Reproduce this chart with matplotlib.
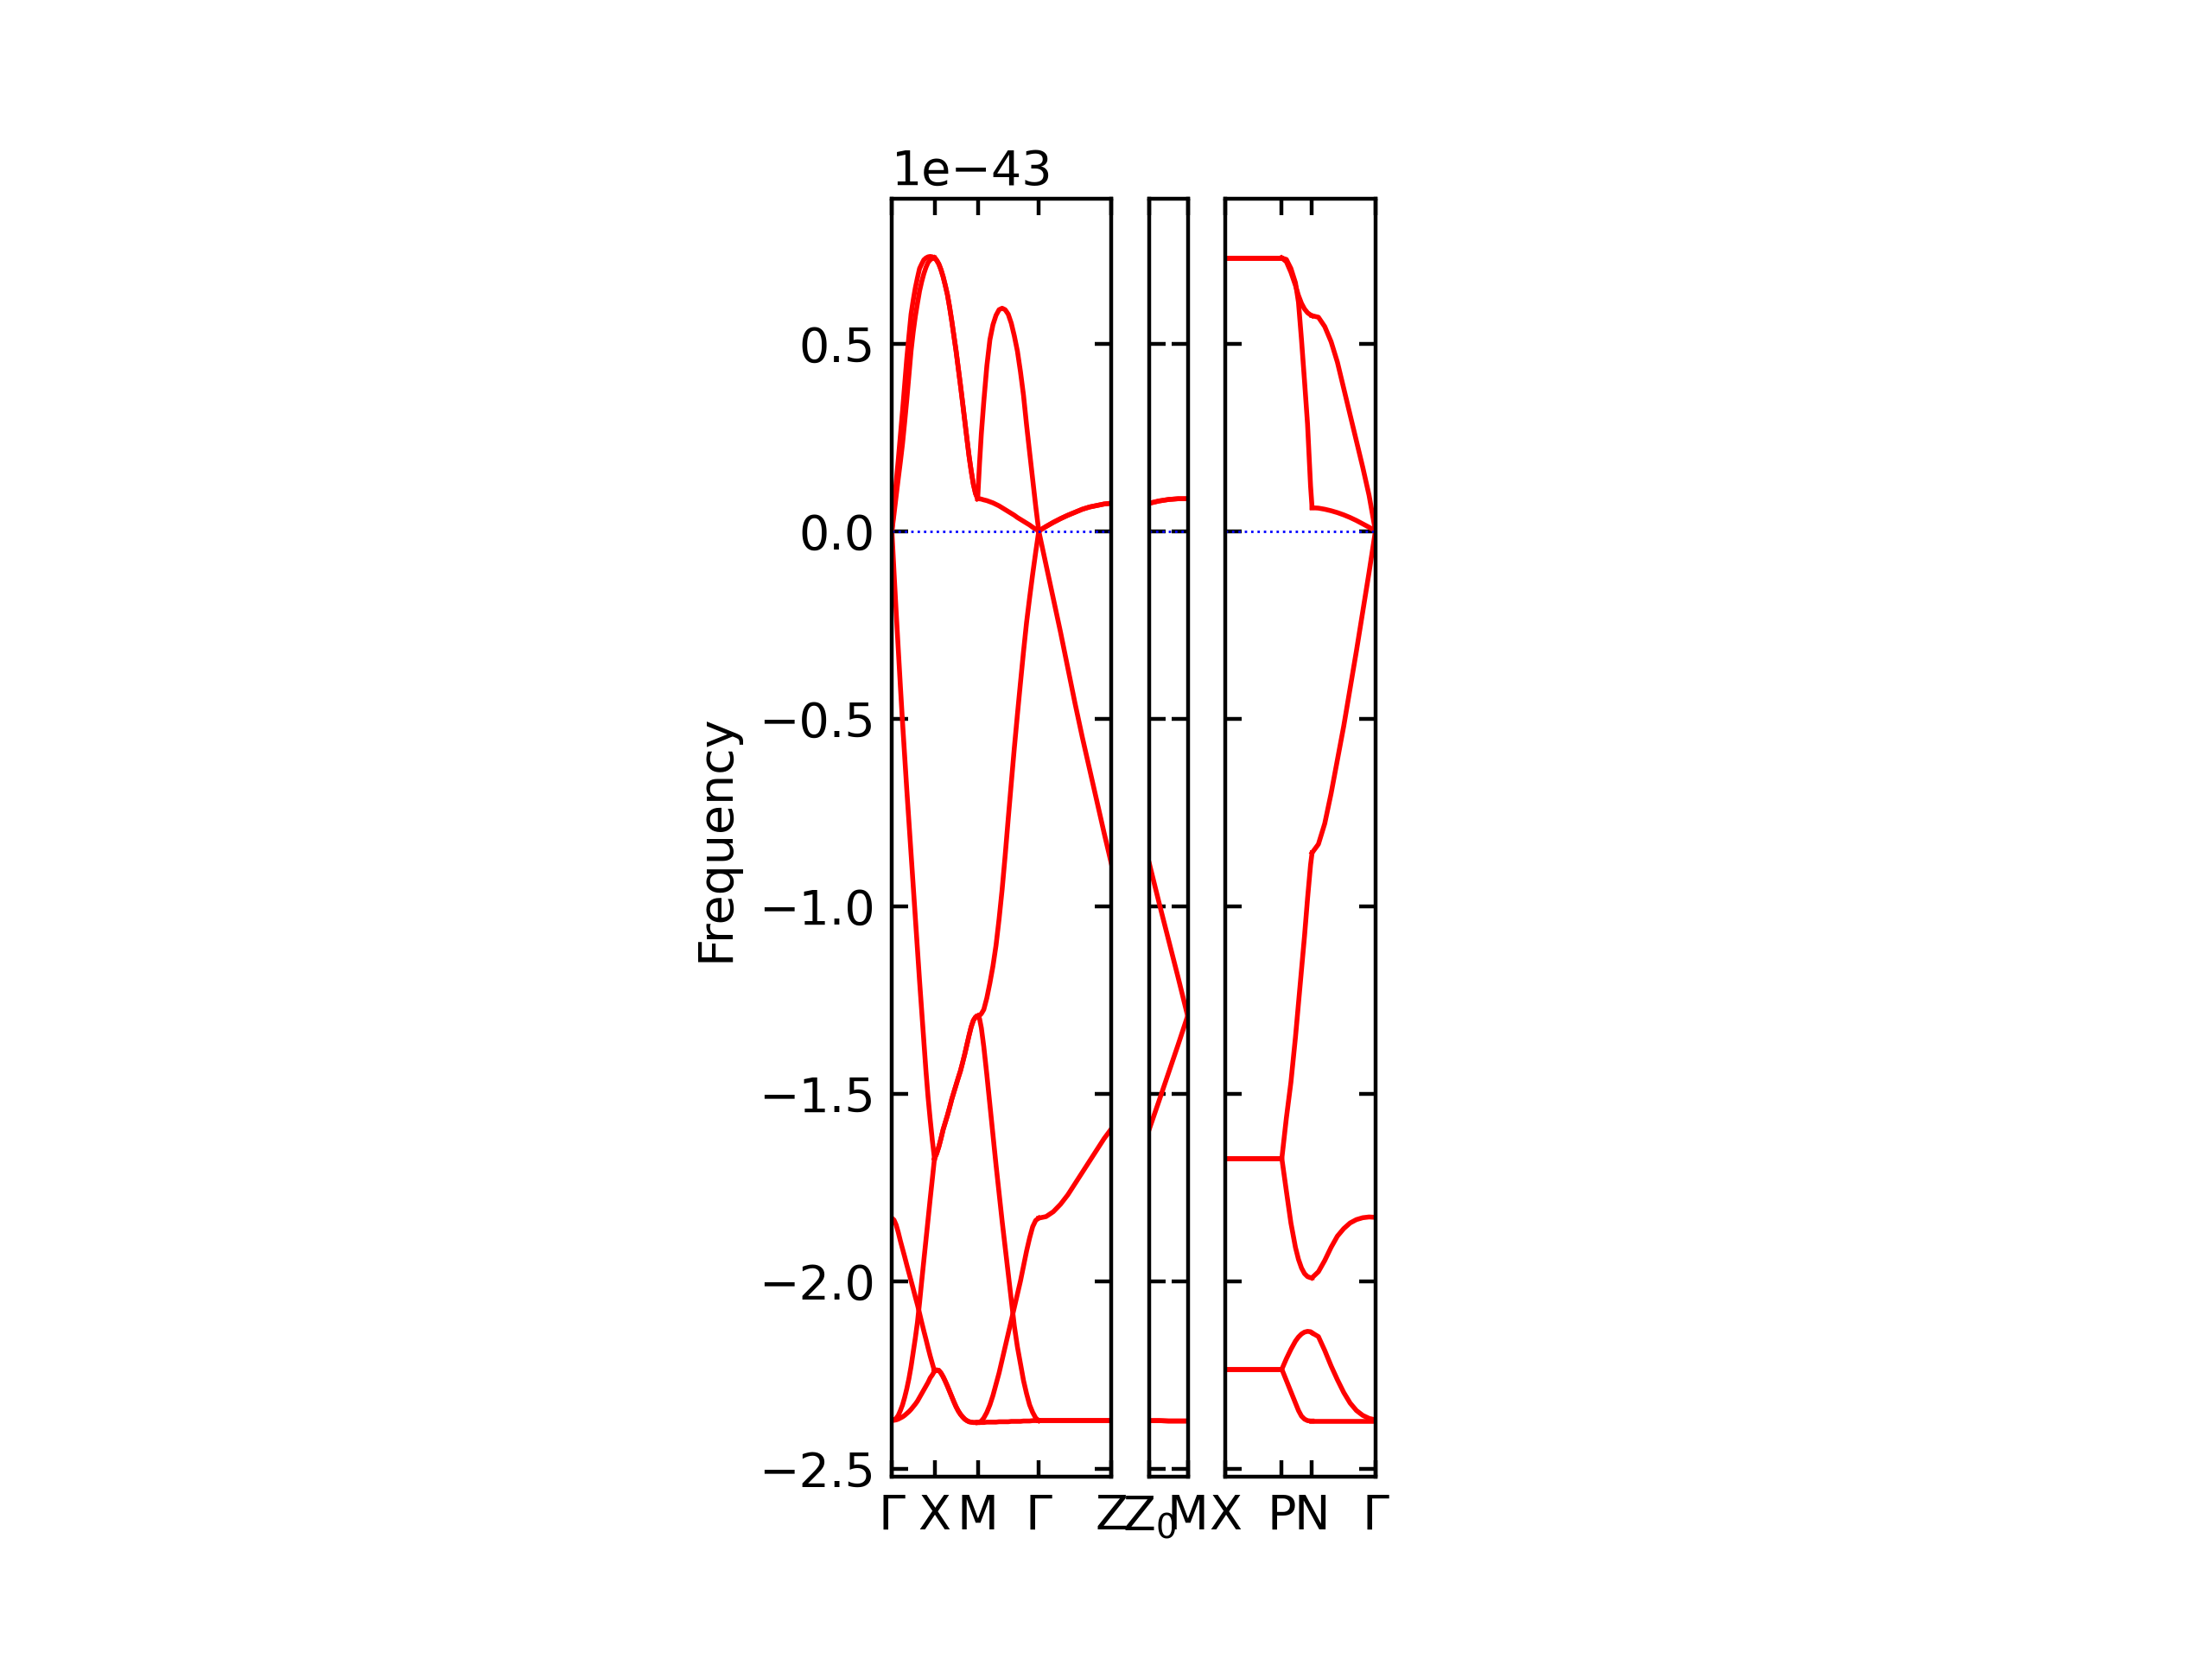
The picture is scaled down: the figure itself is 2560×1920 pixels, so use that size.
import matplotlib
matplotlib.use("Agg")
import matplotlib.pyplot as plt
from matplotlib.ticker import NullFormatter

# Band structure along G-X-M-G-Z | Z0-M | X-P-N-G (values in units of 1e-43)
SCALE = 1e-43

seg_labels = [("Γ", "X"), ("X", "M"), ("M", "Γ"), ("Γ", "Z"),
              ("Z$_0$", "M"),
              ("X", "P"), ("P", "N"), ("N", "Γ")]
seg_len = [0.493, 0.500, 0.707, 0.840, 0.443, 0.650, 0.350, 0.733]
panel_segs = [[0, 1, 2, 3], [4], [5, 6, 7]]

# G -> X
q_GX = [0, .05, .1, .15, .2, .25, .3, .35, .4, .45, .5,
        .55, .6, .65, .7, .75, .8, .85, .9, .95, 1]
f_GX = [
    [0, .065, .13, .19, .255, .32, .39, .46, .52, .578, .615,
     .648, .675, .70, .712, .723, .728, .731, .732, .731, .728],
    [0, .045, .093, .14, .185, .233, .29, .35, .415, .48, .53,
     .572, .607, .64, .665, .686, .703, .716, .723, .727, .728],
    [0, -.11, -.215, -.315, -.415, -.51, -.6, -.69, -.775, -.86, -.945,
     -1.03, -1.115, -1.2, -1.28, -1.36, -1.44, -1.51, -1.57, -1.625, -1.673],
    [-1.832, -1.837, -1.85, -1.87, -1.893, -1.914, -1.935, -1.957, -1.978, -1.999, -2.02,
     -2.042, -2.063, -2.086, -2.11, -2.133, -2.155, -2.178, -2.2, -2.22, -2.24],
    [-2.371, -2.37, -2.366, -2.358, -2.345, -2.33, -2.31, -2.287, -2.26, -2.228, -2.19,
     -2.152, -2.11, -2.057, -2.0, -1.945, -1.89, -1.835, -1.78, -1.727, -1.673],
    [-2.371, -2.371, -2.37, -2.368, -2.365, -2.362, -2.358, -2.353, -2.348, -2.342, -2.335,
     -2.328, -2.32, -2.31, -2.3, -2.29, -2.28, -2.27, -2.258, -2.25, -2.24],
]

# X -> M
q_XM = [0, .05, .1, .15, .2, .25, .3, .35, .4, .45, .5,
        .55, .6, .65, .7, .75, .8, .85, .9, .95, 1]
f_XM = [
    [.728, .722, .712, .697, .678, .655, .63, .597, .56, .52, .48,
     .435, .39, .343, .295, .247, .2, .16, .125, .1, .086],
    [.728, .722, .712, .697, .678, .655, .63, .597, .56, .52, .48,
     .435, .39, .343, .295, .247, .2, .16, .125, .1, .086],
    [-1.673, -1.66, -1.642, -1.62, -1.596, -1.577, -1.558, -1.537, -1.515, -1.496, -1.477,
     -1.458, -1.44, -1.418, -1.395, -1.37, -1.345, -1.322, -1.305, -1.296, -1.293],
    [-1.673, -1.66, -1.642, -1.62, -1.596, -1.577, -1.558, -1.537, -1.515, -1.496, -1.477,
     -1.458, -1.44, -1.418, -1.395, -1.37, -1.345, -1.322, -1.305, -1.296, -1.293],
    [-2.24, -2.237, -2.238, -2.245, -2.255, -2.267, -2.28, -2.294, -2.308, -2.322, -2.335,
     -2.346, -2.355, -2.362, -2.368, -2.372, -2.375, -2.376, -2.377, -2.377, -2.377],
    [-2.24, -2.237, -2.238, -2.245, -2.255, -2.267, -2.28, -2.294, -2.308, -2.322, -2.335,
     -2.346, -2.355, -2.362, -2.368, -2.372, -2.375, -2.376, -2.377, -2.377, -2.377],
]

# M -> G
q_MG = [0, .03, .06, .1, .15, .2, .25, .3, .35, .4, .45,
        .5, .55, .6, .65, .7, .75, .8, .85, .9, .95, 1]
f_MG = [
    [.086, .18, .26, .345, .44, .51, .55, .575, .59, .594, .59,
     .578, .554, .52, .48, .425, .362, .283, .21, .138, .066, 0],
    [.086, .086, .085, .083, .081, .078, .075, .071, .067, .062, .057,
     .052, .047, .042, .036, .031, .026, .021, .016, .01, .005, 0],
    [-1.293, -1.292, -1.287, -1.276, -1.245, -1.205, -1.16, -1.105, -1.035, -.956, -.865,
     -.767, -.672, -.578, -.49, -.405, -.322, -.244, -.178, -.115, -.056, 0],
    [-1.293, -1.30, -1.325, -1.375, -1.45, -1.53, -1.61, -1.69, -1.765, -1.84, -1.91,
     -1.98, -2.05, -2.12, -2.175, -2.22, -2.265, -2.30, -2.33, -2.35, -2.365, -2.372],
    [-2.377, -2.376, -2.373, -2.365, -2.35, -2.33, -2.305, -2.275, -2.245, -2.21, -2.175,
     -2.14, -2.105, -2.07, -2.035, -2.0, -1.96, -1.92, -1.885, -1.855, -1.838, -1.832],
    [-2.377, -2.377, -2.377, -2.377, -2.376, -2.376, -2.376, -2.376, -2.375, -2.375, -2.375,
     -2.375, -2.374, -2.374, -2.374, -2.374, -2.373, -2.373, -2.373, -2.372, -2.372, -2.372],
]

# G -> Z
q_GZ = [0, .1, .2, .3, .4, .5, .6, .7, .8, .9, 1]
f_GZ = [
    [0, .012, .023, .033, .042, .05, .058, .064, .068, .072, .074],
    [0, .012, .023, .033, .042, .05, .058, .064, .068, .072, .074],
    [0, -.09, -.18, -.27, -.365, -.46, -.55, -.635, -.72, -.805, -.887],
    [-1.832, -1.828, -1.815, -1.795, -1.77, -1.74, -1.71, -1.68, -1.65, -1.62, -1.594],
    [-2.372, -2.372, -2.372, -2.372, -2.372, -2.372, -2.372, -2.372, -2.372, -2.372, -2.372],
    [-2.372, -2.372, -2.372, -2.372, -2.372, -2.372, -2.372, -2.372, -2.372, -2.372, -2.372],
]

# Z0 -> M
q_ZM = [0, .25, .5, .75, 1]
f_ZM = [
    [.074, .080, .084, .086, .086],
    [.074, .080, .084, .086, .086],
    [-.887, -.99, -1.09, -1.19, -1.293],
    [-1.594, -1.52, -1.445, -1.37, -1.293],
    [-2.372, -2.372, -2.373, -2.373, -2.373],
    [-2.372, -2.372, -2.373, -2.373, -2.373],
]

# X -> P
q_XP = [0, .5, 1]
f_XP = [
    [.728, .728, .728],
    [.728, .728, .728],
    [-1.673, -1.673, -1.673],
    [-1.673, -1.673, -1.673],
    [-2.235, -2.235, -2.235],
    [-2.235, -2.235, -2.235],
]

# P -> N
q_PN = [0, .15, .3, .45, .55, .65, .75, .85, .95, 1]
f_PN = [
    [.728, .718, .69, .655, .628, .607, .592, .582, .576, .574],
    [.728, .724, .70, .662, .61, .51, .40, .285, .12, .062],
    [-1.673, -1.565, -1.47, -1.35, -1.26, -1.17, -1.08, -.98, -.89, -.858],
    [-1.673, -1.76, -1.845, -1.91, -1.942, -1.965, -1.98, -1.988, -1.991, -1.991],
    [-2.235, -2.207, -2.182, -2.16, -2.149, -2.141, -2.136, -2.134, -2.135, -2.138],
    [-2.235, -2.265, -2.295, -2.325, -2.345, -2.36, -2.368, -2.372, -2.373, -2.373],
]

# N -> G
q_NG = [0, .1, .2, .3, .4, .5, .6, .7, .8, .9, 1]
f_NG = [
    [.574, .570, .545, .505, .45, .38, .31, .24, .17, .095, 0],
    [.062, .061, .058, .054, .049, .043, .036, .028, .019, .01, 0],
    [-.858, -.835, -.78, -.70, -.61, -.52, -.42, -.32, -.215, -.11, 0],
    [-1.991, -1.975, -1.945, -1.91, -1.88, -1.86, -1.845, -1.836, -1.831, -1.829, -1.83],
    [-2.138, -2.148, -2.185, -2.226, -2.263, -2.297, -2.325, -2.345, -2.358, -2.366, -2.37],
    [-2.373, -2.373, -2.373, -2.373, -2.373, -2.373, -2.373, -2.373, -2.373, -2.373, -2.373],
]

seg_q = [q_GX, q_XM, q_MG, q_GZ, q_ZM, q_XP, q_PN, q_NG]
seg_f = [f_GX, f_XM, f_MG, f_GZ, f_ZM, f_XP, f_PN, f_NG]

ymin, ymax = -2.521, 0.885

# cumulative distance at the start of each segment
starts = [0.0]
for L in seg_len[:-1]:
    starts.append(starts[-1] + L)

fig = plt.figure(figsize=(6.4, 4.8), dpi=400)

unit = 100 / 2560           # axes fraction per distance unit
pad = 0.11 / 6.4            # gap between panels (axes_pad 0.11 in)
widths = [sum(seg_len[i] for i in segs) * unit for segs in panel_segs]
total = sum(widths) + pad * (len(widths) - 1)
left = 0.5125 - total / 2

axes = []
for p, segs in enumerate(panel_segs):
    ax = fig.add_axes([left, 0.11, widths[p], 0.77])
    left += widths[p] + pad
    axes.append(ax)

    x0 = starts[segs[0]]
    x1 = starts[segs[-1]] + seg_len[segs[-1]]
    for s in segs:
        for band in seg_f[s]:
            xs = [starts[s] + q * seg_len[s] for q in seg_q[s]]
            ys = [v * SCALE for v in band]
            ax.plot(xs, ys, "r-", linewidth=1.0)
    ax.plot([x0, x1], [0, 0], linestyle=":", linewidth=0.5, color="b")

    ticks = [starts[s] for s in segs] + [x1]
    tlabels = [seg_labels[s][0] for s in segs] + [seg_labels[segs[-1]][1]]
    ax.set_xticks(ticks)
    ax.set_xticklabels(tlabels)
    ax.set_xlim(x0, x1)
    ax.set_ylim(ymin * SCALE, ymax * SCALE)

    ax.xaxis.set_ticks_position("both")
    ax.yaxis.set_ticks_position("both")
    ax.xaxis.set_tick_params(which="both", direction="in")
    ax.yaxis.set_tick_params(which="both", direction="in")
    if p > 0:
        ax.yaxis.set_major_formatter(NullFormatter())

axes[0].set_ylabel("Frequency")

fig.savefig("out.png", dpi=400)
